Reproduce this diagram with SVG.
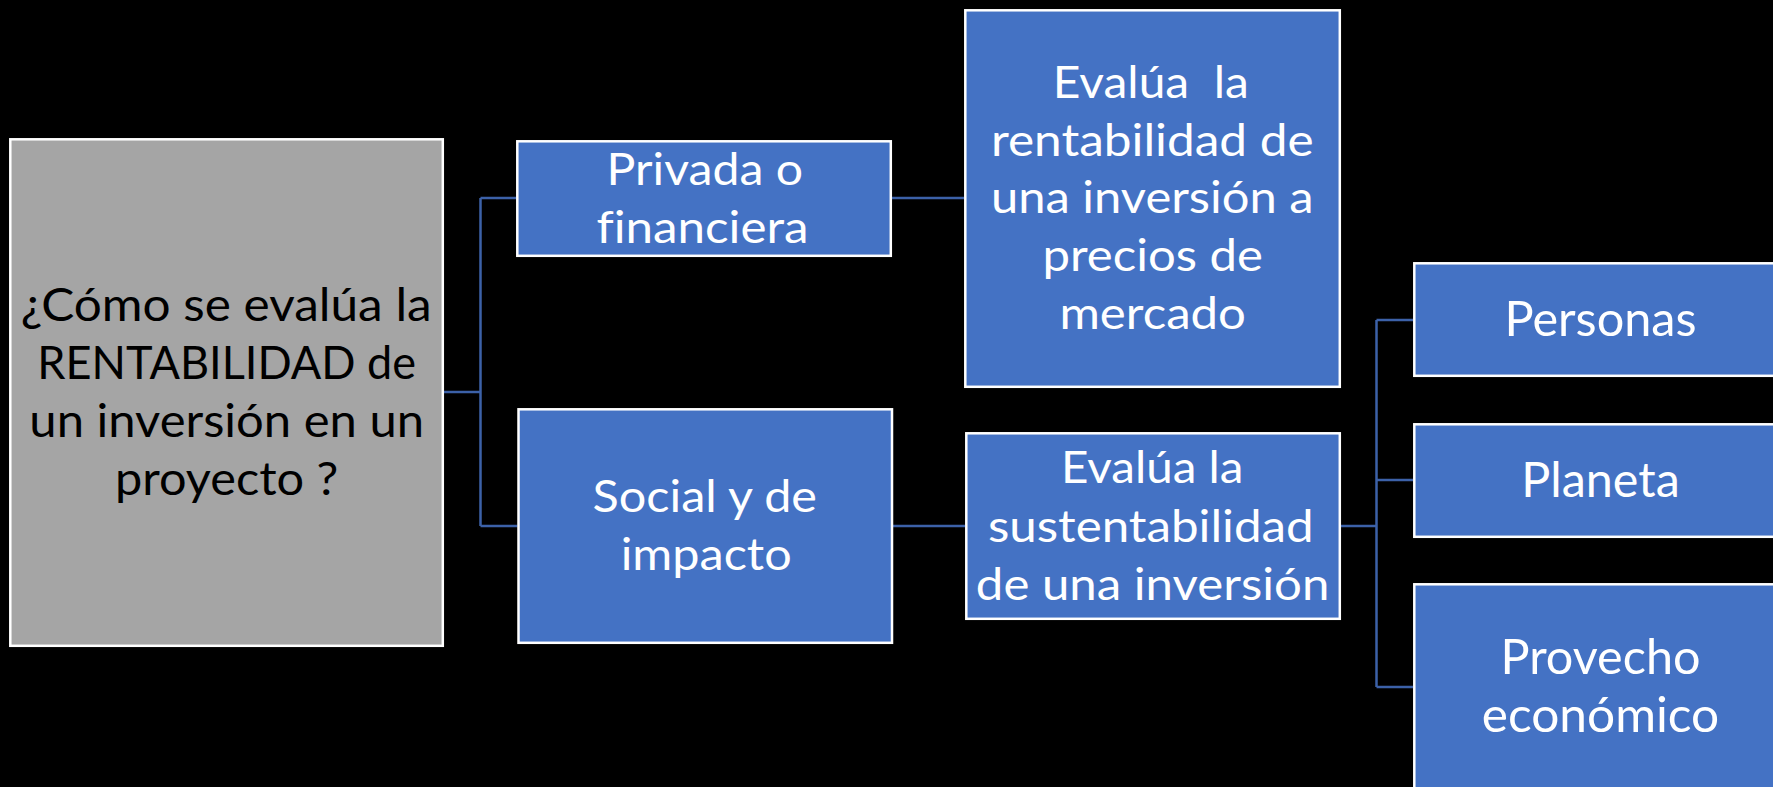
<svg xmlns="http://www.w3.org/2000/svg" width="1773" height="787" viewBox="0 0 1773 787">
<style>
.node{fill:#4472C4;stroke:#FFFFFF;stroke-width:2.5}
.root{fill:#A5A5A5;stroke:#FFFFFF;stroke-width:2.5}
.t{font-family:Lato,"Liberation Sans",sans-serif;fill:#FFFFFF;text-anchor:middle;font-variant-ligatures:none;font-feature-settings:"liga" 0}
.tb{font-family:Lato,"Liberation Sans",sans-serif;fill:#000000;text-anchor:middle;font-variant-ligatures:none;font-feature-settings:"liga" 0}
.conn{fill:none;stroke:#3C61A8;stroke-width:2.5}
</style>
<rect x="0" y="0" width="1773" height="787" fill="#000000"/>
<g id="connectors">
<path class="conn" d="M444 392 H480.5 M480.5 198 V526 M480.5 198 H516 M480.5 526 H517.5"/>
<path class="conn" d="M892 198 H964"/>
<path class="conn" d="M893 526 H965"/>
<path class="conn" d="M1341 526 H1376.5 M1376.5 320 V687 M1376.5 320 H1413 M1376.5 480 H1413 M1376.5 687 H1413"/>
</g>
<g id="root">
<rect class="root" x="10.3" y="139.3" width="432.5" height="506.5"/>
<text class="tb" font-size="45.5"><tspan x="226.2" y="320.5" textLength="411" lengthAdjust="spacingAndGlyphs">¿Cómo se evalúa la</tspan><tspan x="226.7" y="379" textLength="378.7" lengthAdjust="spacingAndGlyphs">RENTABILIDAD de</tspan><tspan x="226.7" y="436.5" textLength="394.7" lengthAdjust="spacingAndGlyphs">un inversión en un</tspan><tspan x="226.7" y="495" textLength="223.3" lengthAdjust="spacingAndGlyphs">proyecto ?</tspan></text>
</g>
<g id="privada">
<rect class="node" x="517.3" y="141.3" width="373.5" height="114.5"/>
<text class="t" font-size="44"><tspan x="704.8" y="185" textLength="196.4" lengthAdjust="spacingAndGlyphs">Privada o</tspan><tspan x="702.5" y="243" textLength="212" lengthAdjust="spacingAndGlyphs">financiera</tspan></text>
</g>
<g id="social">
<rect class="node" x="518.5" y="409.3" width="373.5" height="233.5"/>
<text class="t" font-size="44"><tspan x="704.8" y="511.7" textLength="224.4" lengthAdjust="spacingAndGlyphs">Social y de</tspan><tspan x="706.2" y="570" textLength="171" lengthAdjust="spacingAndGlyphs">impacto</tspan></text>
</g>
<g id="evalua-rentabilidad">
<rect class="node" x="965.3" y="10.3" width="374.5" height="376.5"/>
<text class="t" font-size="44" xml:space="preserve"><tspan x="1150.8" y="98" textLength="196" lengthAdjust="spacingAndGlyphs">Evalúa  la</tspan><tspan x="1152.3" y="155.7" textLength="322.7" lengthAdjust="spacingAndGlyphs">rentabilidad de</tspan><tspan x="1152.3" y="213.4" textLength="322.7" lengthAdjust="spacingAndGlyphs">una inversión a</tspan><tspan x="1152.7" y="271.1" textLength="220.5" lengthAdjust="spacingAndGlyphs">precios de</tspan><tspan x="1152.7" y="328.8" textLength="186.6" lengthAdjust="spacingAndGlyphs">mercado</tspan></text>
</g>
<g id="evalua-sustentabilidad">
<rect class="node" x="966.3" y="433.3" width="373.5" height="185.5"/>
<text class="t" font-size="44"><tspan x="1152.2" y="483" textLength="182.5" lengthAdjust="spacingAndGlyphs">Evalúa la</tspan><tspan x="1150.8" y="541.5" textLength="325.7" lengthAdjust="spacingAndGlyphs">sustentabilidad</tspan><tspan x="1152.6" y="600" textLength="353.5" lengthAdjust="spacingAndGlyphs">de una inversión</tspan></text>
</g>
<g id="personas">
<rect class="node" x="1414.3" y="263.3" width="374" height="112.5"/>
<text class="t" font-size="47.5" x="1600.5" y="335.6" textLength="192" lengthAdjust="spacingAndGlyphs">Personas</text>
</g>
<g id="planeta">
<rect class="node" x="1414.3" y="424.3" width="374" height="112.5"/>
<text class="t" font-size="47.5" x="1600.5" y="496.5" textLength="158.5" lengthAdjust="spacingAndGlyphs">Planeta</text>
</g>
<g id="provecho">
<rect class="node" x="1414.3" y="584.3" width="374" height="230"/>
<text class="t" font-size="47.5"><tspan x="1600.5" y="674" textLength="200" lengthAdjust="spacingAndGlyphs">Provecho</tspan><tspan x="1600.5" y="732" textLength="237.5" lengthAdjust="spacingAndGlyphs">económico</tspan></text>
</g>
</svg>
